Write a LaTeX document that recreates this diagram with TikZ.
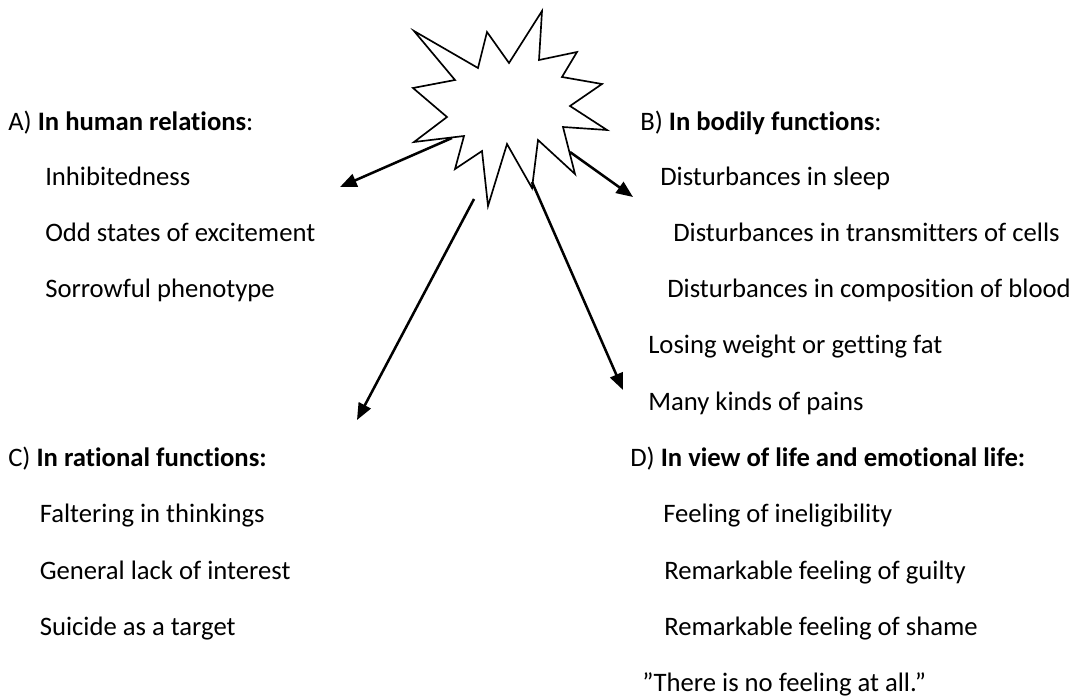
\documentclass[tikz,border=0pt]{standalone}
\usepackage{fontspec}
\setmainfont[Ligatures=NoCommon]{Carlito}
\usetikzlibrary{arrows.meta}
\begin{document}
\begin{tikzpicture}[x=0.75pt,y=-0.75pt,
  txt/.style={anchor=base west,inner sep=0pt,font=\fontsize{20}{24}\selectfont},
  star/.style={draw=black,line width=1.25pt,fill=white,line join=miter},
  arr/.style={draw=black,line width=1.9pt,-{Triangle[length=12.5pt,width=10pt]}}]
\useasboundingbox (0,0) rectangle (1073,696);
% star
\draw[star] (414,31) -- (478,68) -- (487,32) -- (509,63) -- (542,11) -- (539,60) -- (577,52) -- (562,77) -- (602,84) -- (570,106) -- (607,130) -- (563,127) -- (575,174) -- (538,140) -- (532,188) -- (507,144) -- (488,206) -- (482,151) -- (455,169) -- (464,136) -- (414,142) -- (447,117) -- (413,88) -- (455,80) -- cycle;
% arrow endpoints
\coordinate (sa) at (452,138);
\coordinate (ta) at (340,187);
\coordinate (sb) at (570,152);
\coordinate (tb) at (633,197);
\coordinate (sc) at (474,199);
\coordinate (tc) at (357,420);
\coordinate (sd) at (532,182);
\coordinate (td) at (623,390);
\draw[arr] (sa) -- (ta);
\draw[arr] (sb) -- (tb);
\draw[arr] (sc) -- (tc);
\draw[arr] (sd) -- (td);
% left texts
\node[txt] (A)  at (8,130)   {A) \textbf{In human relations}:};
\node[txt] (A1) at (45,185.5) {Inhibitedness};
\node[txt] (A2) at (45,241)  {Odd states of excitement};
\node[txt] (A3) at (45,297)  {Sorrowful phenotype};
\node[txt] (C)  at (8,466)   {C) \textbf{In rational functions:}};
\node[txt] (C1) at (39.5,522) {Faltering in thinkings};
\node[txt] (C2) at (39.5,579) {General lack of interest};
\node[txt] (C3) at (39.5,635) {Suicide as a target};
% right texts
\node[txt] (B)  at (640,130)  {B) \textbf{In bodily functions}:};
\node[txt] (B1) at (660,185.5) {Disturbances in sleep};
\node[txt] (B2) at (673,241)  {Disturbances in transmitters of cells};
\node[txt] (B3) at (667,297)  {Disturbances in composition of blood};
\node[txt] (B4) at (648,353)  {Losing weight or getting fat};
\node[txt] (B5) at (648,410)  {Many kinds of pains};
\node[txt] (D)  at (630,466)  {D) \textbf{In view of life and emotional life:}};
\node[txt] (D1) at (663,522)  {Feeling of ineligibility};
\node[txt] (D2) at (664,579)  {Remarkable feeling of guilty};
\node[txt] (D3) at (664,635)  {Remarkable feeling of shame};
\node[txt] (D4) at (642,691)  {”There is no feeling at all.”};
\end{tikzpicture}
\end{document}
